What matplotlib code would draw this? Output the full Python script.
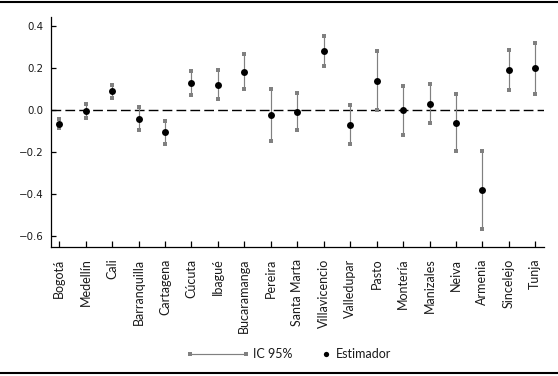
import matplotlib
matplotlib.use("Agg")
import matplotlib.pyplot as plt
from matplotlib.lines import Line2D
import numpy as np

plt.rcParams['font.family'] = ['Lato', 'DejaVu Sans']

ciudades = ["Bogotá", "Medellín", "Cali", "Barranquilla", "Cartagena", "Cúcuta",
            "Ibagué", "Bucaramanga", "Pereira", "Santa Marta", "Villavicencio",
            "Valledupar", "Pasto", "Montería", "Manizales", "Neiva", "Armenia",
            "Sincelejo", "Tunja"]
estimador = [-0.065, -0.003, 0.090, -0.040, -0.103, 0.132, 0.121, 0.183, -0.022,
             -0.006, 0.283, -0.068, 0.141, 0.000, 0.032, -0.059, -0.381, 0.192, 0.200]
ic_sup = [-0.041, 0.029, 0.121, 0.016, -0.049, 0.187, 0.190, 0.268, 0.103,
          0.084, 0.354, 0.024, 0.281, 0.114, 0.124, 0.076, -0.192, 0.287, 0.321]
ic_inf = [-0.084, -0.038, 0.060, -0.092, -0.160, 0.075, 0.052, 0.102, -0.144,
          -0.095, 0.213, -0.162, 0.003, -0.116, -0.062, -0.192, -0.565, 0.098, 0.079]
yticks = [-0.6, -0.4, -0.2, 0.0, 0.2, 0.4]
leyenda = ["IC 95%", "Estimador"]

W, H = 558, 376
fig = plt.figure(figsize=(W / 100, H / 100), dpi=100)
ax = fig.add_axes([51 / W, 1 - 246.7 / H, (544.3 - 51) / W, (246.7 - 17.3) / H])

x = np.arange(len(ciudades))
grey = '#808080'
txt = '#1a1a1a'
ax.axhline(0, color='black', lw=1.0, ls=(0, (7, 3)), zorder=1)
ax.vlines(x, ic_inf, ic_sup, color=grey, lw=0.85, zorder=2)
ax.plot(x, ic_sup, 's', color=grey, ms=3.3, mew=0, zorder=3)
ax.plot(x, ic_inf, 's', color=grey, ms=3.3, mew=0, zorder=3)
ax.plot(x, estimador, 'o', color='black', ms=5, mew=0, zorder=4)

ax.set_xlim(-0.31, 18.34)
ax.set_ylim(-0.65, 0.443)
ax.set_xticks(x)
ax.set_xticklabels(ciudades, rotation=90, fontsize=9, color=txt)
ax.set_yticks(yticks)
ax.set_yticklabels([f"{v:.1f}".replace('-', '\u2212') for v in yticks], fontsize=7.4,
                   color=txt, family='DejaVu Sans')
ax.tick_params(axis='y', direction='in', length=3.5, width=0.9, pad=5.5)
ax.tick_params(axis='x', direction='in', length=4, width=0.9, pad=8.5)
for s in ['top', 'right']:
    ax.spines[s].set_visible(False)
for s in ['left', 'bottom']:
    ax.spines[s].set_linewidth(0.9)

# legend (drawn in figure pixel coordinates)
ly = 1 - 354 / H
fig.add_artist(Line2D([190 / W, 246 / W], [ly, ly], color=grey, lw=0.85,
                      marker='s', ms=3.3, mew=0, transform=fig.transFigure))
fig.text(253 / W, ly, leyenda[0], fontsize=9, color=txt, va='center', ha='left')
fig.add_artist(Line2D([326 / W], [ly], color='black', marker='o', ms=3.8, mew=0, ls='none',
                      transform=fig.transFigure))
fig.text(336 / W, ly, leyenda[1], fontsize=9, color=txt, va='center', ha='left')

fig.add_artist(Line2D([0, 1], [1 - 2 / H, 1 - 2 / H], color='black', lw=1.5, transform=fig.transFigure))
fig.add_artist(Line2D([0, 1], [1 - 373 / H, 1 - 373 / H], color='black', lw=1.5, transform=fig.transFigure))

fig.savefig("out.png", dpi=100)
